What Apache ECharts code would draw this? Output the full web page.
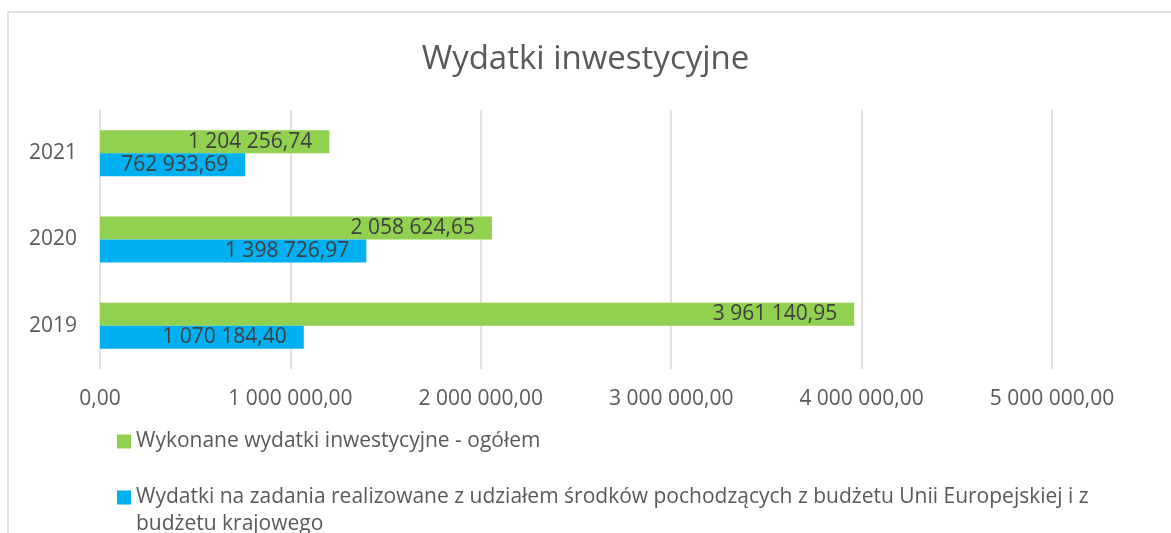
<!DOCTYPE html>
<html>
<head>
<meta charset="utf-8">
<script src="https://cdn.jsdelivr.net/npm/echarts@6/dist/echarts.min.js"></script>
<style>
html,body{margin:0;padding:0;background:#fff;}
#chart{width:1171px;height:533px;}
</style>
</head>
<body>
<div id="chart"></div>
<script>
const categories = ['2019', '2020', '2021'];
const seriesTotalName = 'Wykonane wydatki inwestycyjne - ogółem';
const seriesEuName = 'Wydatki na zadania realizowane z udziałem środków pochodzących z budżetu Unii Europejskiej i z budżetu krajowego';
const totalValues = [3961140.95, 2058624.65, 1204256.74];
const euValues = [1070184.40, 1398726.97, 762933.69];
const axisTicks = [0, 1000000, 2000000, 3000000, 4000000, 5000000];

function fmt(v) {
  const parts = Number(v).toFixed(2).split('.');
  return parts[0].replace(/\B(?=(\d{3})+(?!\d))/g, ' ') + ',' + parts[1];
}

const FONT = '"Open Sans", sans-serif';
const chart = echarts.init(document.getElementById('chart'));
chart.setOption({
  animation: false,
  backgroundColor: '#ffffff',
  textStyle: { fontFamily: FONT },
  graphic: [{
    type: 'rect',
    shape: { x: 8, y: 12, width: 1200, height: 600 },
    style: { fill: 'none', stroke: '#d9d9d9', lineWidth: 1.5 },
    silent: true
  }, {
    type: 'text',
    left: 136,
    top: 514,
    style: { text: 'budżetu krajowego', fill: '#595959', font: '21px ' + FONT }
  }],
  title: {
    text: 'Wydatki inwestycyjne',
    left: 'center',
    top: 38,
    textStyle: { fontFamily: FONT, fontSize: 33, fontWeight: 'normal', color: '#595959' }
  },
  legend: [{
    orient: 'vertical',
    left: 112,
    top: 426,
    itemWidth: 14,
    itemHeight: 14,
    icon: 'rect',
    data: [seriesTotalName],
    textStyle: { fontFamily: FONT, fontSize: 21, color: '#595959' }
  }, {
    orient: 'vertical',
    left: 112,
    top: 482,
    itemWidth: 14,
    itemHeight: 14,
    icon: 'rect',
    data: [seriesEuName],
    formatter: function () { return 'Wydatki na zadania realizowane z udziałem środków pochodzących z budżetu Unii Europejskiej i z'; },
    textStyle: { fontFamily: FONT, fontSize: 21, color: '#595959' }
  }],
  grid: { left: 100, right: 119, top: 110, bottom: 164, containLabel: false },
  xAxis: {
    type: 'value',
    min: axisTicks[0],
    max: axisTicks[axisTicks.length - 1],
    interval: axisTicks[1] - axisTicks[0],
    axisLine: { show: false },
    axisTick: { show: false },
    splitLine: { show: true, lineStyle: { color: '#d9d9d9', width: 1.5 } },
    axisLabel: { formatter: fmt, fontFamily: FONT, fontSize: 21, color: '#595959', margin: 20 }
  },
  yAxis: {
    type: 'category',
    data: categories,
    axisLine: { show: false },
    axisTick: { show: false },
    axisLabel: { fontFamily: FONT, fontSize: 21, color: '#595959', margin: 23 }
  },
  series: [{
    name: seriesTotalName,
    type: 'bar',
    data: totalValues,
    barWidth: 23,
    barGap: '0%',
    itemStyle: { color: '#92D050' },
    label: { show: true, position: 'insideRight', formatter: function (p) { return fmt(p.value); }, fontFamily: FONT, fontSize: 21, color: '#404040', distance: 17 }
  }, {
    name: seriesEuName,
    type: 'bar',
    data: euValues,
    barWidth: 23,
    barGap: '0%',
    itemStyle: { color: '#00B0F0' },
    label: { show: true, position: 'insideRight', formatter: function (p) { return fmt(p.value); }, fontFamily: FONT, fontSize: 21, color: '#404040', distance: 17 }
  }]
});
</script>
</body>
</html>
